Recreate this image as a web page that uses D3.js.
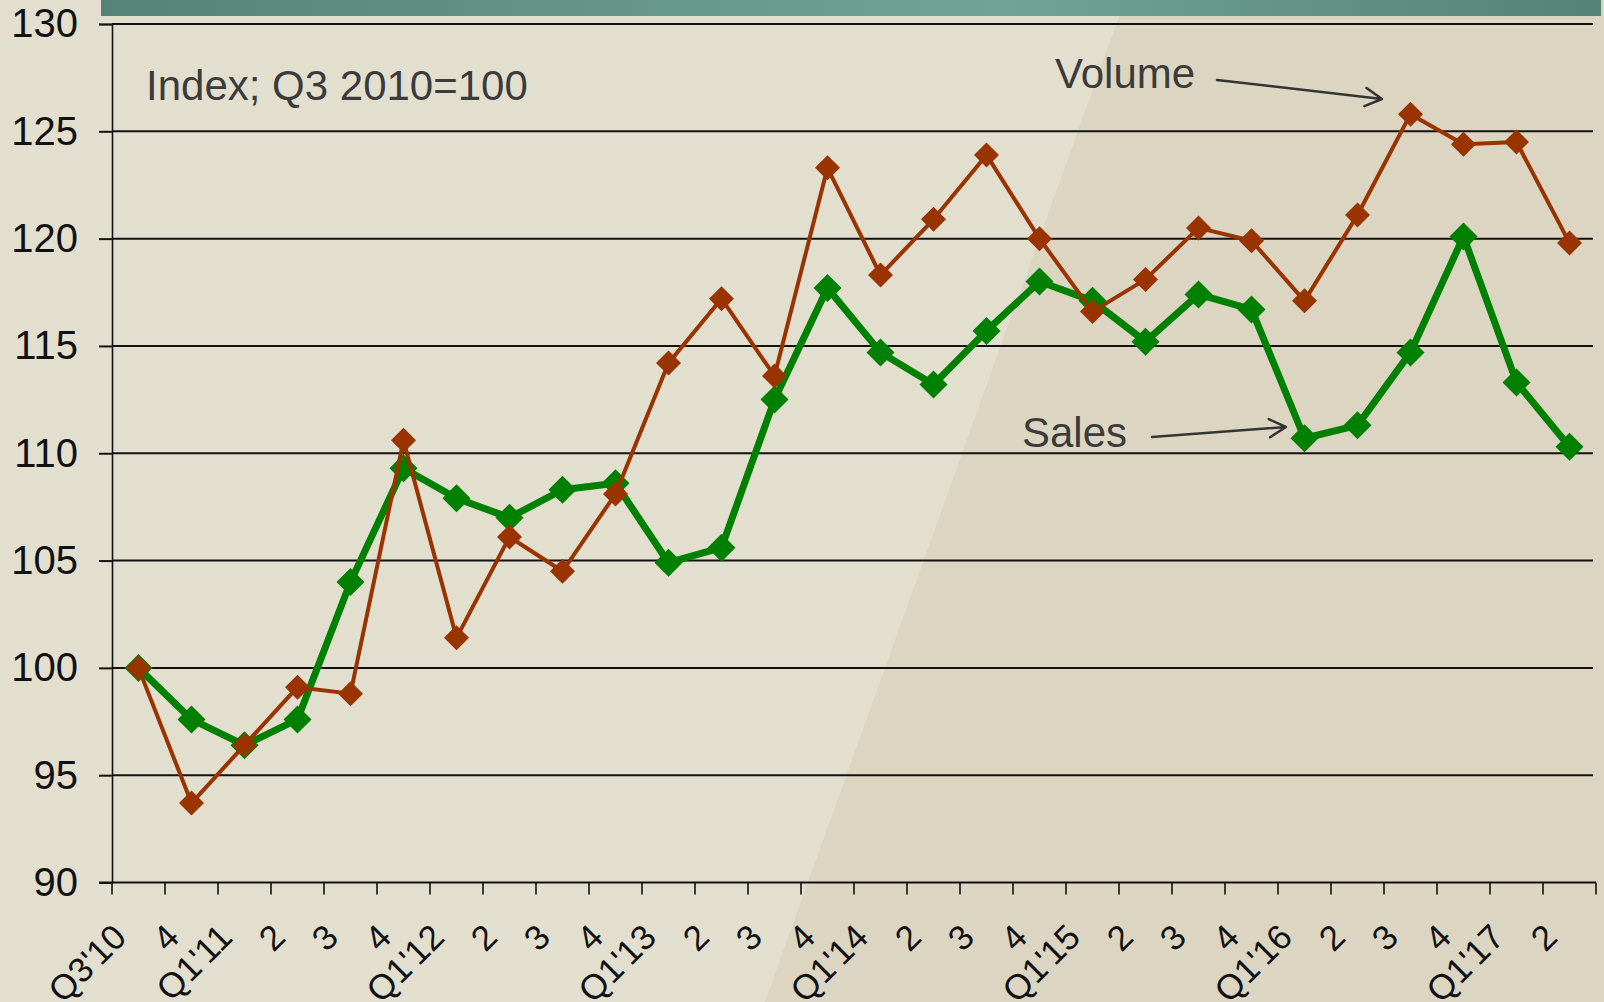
<!DOCTYPE html>
<html>
<head>
<meta charset="utf-8">
<script src="https://cdn.jsdelivr.net/npm/d3@7"></script>
<style>
  html, body { margin: 0; padding: 0; background: #e2dfcf; }
  svg { display: block; }
</style>
</head>
<body>
<script>
// quarters, Q3 2010 .. Q2 2017
var quarters = ["Q3'10", "4", "Q1'11", "2", "3", "4", "Q1'12", "2", "3", "4", "Q1'13", "2", "3", "4",
                "Q1'14", "2", "3", "4", "Q1'15", "2", "3", "4", "Q1'16", "2", "3", "4", "Q1'17", "2"];
var sales  = [100.0, 97.6, 96.4, 97.6, 104.0, 109.3, 107.9, 107.0, 108.3, 108.6, 104.9, 105.6, 112.5, 117.7,
              114.7, 113.2, 115.7, 118.0, 117.1, 115.2, 117.4, 116.7, 110.7, 111.3, 114.7, 120.1, 113.3, 110.3];
var volume = [100.0, 93.7, 96.4, 99.1, 98.8, 110.6, 101.4, 106.1, 104.5, 108.1, 114.2, 117.2, 113.6, 123.3,
              118.3, 120.9, 123.9, 120.0, 116.6, 118.1, 120.5, 119.9, 117.1, 121.1, 125.8, 124.4, 124.5, 119.8];
var yTicks = [90, 95, 100, 105, 110, 115, 120, 125, 130];

var W = 1604, H = 1002;
var svg = d3.select("body").append("svg")
    .attr("width", W)
    .attr("height", H);

var defs = svg.append("defs");
var grad = defs.append("linearGradient").attr("id", "bar").attr("x1", "0").attr("x2", "1");
grad.append("stop").attr("offset", "0").attr("stop-color", "#558377");
grad.append("stop").attr("offset", "0.6").attr("stop-color", "#71a497");
grad.append("stop").attr("offset", "1").attr("stop-color", "#548276");

// background with the darker diagonal panel on the right
svg.append("rect").attr("width", W).attr("height", H).attr("fill", "#e2dfcf");
svg.append("path")
    .attr("d", "M1125,0 L" + W + ",0 L" + W + "," + H + " L765," + H + " Z")
    .attr("fill", "#dbd5c2");

// title bar (cut off at the top)
svg.append("rect")
    .attr("x", 101).attr("y", 0)
    .attr("width", 1500).attr("height", 16)
    .attr("fill", "url(#bar)");

var x = d3.scaleBand().domain(d3.range(quarters.length)).range([112, 1596]).padding(0);
var y = d3.scaleLinear().domain([90, 130]).range([882.5, 24]);
var cx = function (i) { return x(i) + x.bandwidth() / 2; };

var font = "'Liberation Sans', Arial, sans-serif";

// gridlines
svg.append("g").selectAll("line")
    .data(yTicks.slice(1))
    .enter().append("line")
    .attr("x1", 112).attr("x2", 1593)
    .attr("y1", function (d) { return y(d); })
    .attr("y2", function (d) { return y(d); })
    .attr("stroke", "#111")
    .attr("stroke-width", 2);

// y axis
var yAxis = svg.append("g")
    .attr("transform", "translate(112,0)")
    .call(d3.axisLeft(y).tickValues(yTicks).tickSize(13).tickPadding(21).tickFormat(d3.format("d")));
yAxis.select(".domain").attr("stroke", "#111").attr("stroke-width", 1.6);
yAxis.selectAll(".tick line").attr("stroke", "#111").attr("stroke-width", 2);
yAxis.selectAll("text")
    .attr("fill", "#111")
    .style("font-family", font)
    .style("font-size", "40px");

// x axis
var xAxis = svg.append("g")
    .attr("transform", "translate(0," + y(90) + ")");
xAxis.append("line")
    .attr("x1", 99).attr("x2", 1596)
    .attr("stroke", "#111").attr("stroke-width", 2);
xAxis.selectAll(".xt")
    .data(d3.range(quarters.length + 1))
    .enter().append("line")
    .attr("class", "xt")
    .attr("x1", function (i) { return i < quarters.length ? x(i) : x.range()[1]; })
    .attr("x2", function (i) { return i < quarters.length ? x(i) : x.range()[1]; })
    .attr("y1", 0).attr("y2", 12)
    .attr("stroke", "#111").attr("stroke-width", 1.6);
xAxis.selectAll(".xl")
    .data(quarters)
    .enter().append("text")
    .attr("class", "xl")
    .attr("transform", function (d, i) { return "translate(" + (cx(i) - 19) + ",48) rotate(-45)"; })
    .attr("text-anchor", "end")
    .attr("dominant-baseline", "central")
    .attr("fill", "#111")
    .style("font-family", font)
    .style("font-size", "35px")
    .text(function (d) { return d; });

var diamond = function (r) { return "M0," + (-r) + "L" + r + ",0L0," + r + "L" + (-r) + ",0Z"; };

function drawSeries(values, color, lineW, r) {
    var line = d3.line()
        .x(function (d, i) { return cx(i); })
        .y(function (d) { return y(d); });
    svg.append("path")
        .datum(values)
        .attr("d", line)
        .attr("fill", "none")
        .attr("stroke", color)
        .attr("stroke-width", lineW)
        .attr("stroke-linejoin", "round");
    svg.append("g").selectAll("path")
        .data(values)
        .enter().append("path")
        .attr("transform", function (d, i) { return "translate(" + cx(i) + "," + y(d) + ")"; })
        .attr("d", diamond(r))
        .attr("fill", color);
}

drawSeries(sales, "#008000", 7, 14);
drawSeries(volume, "#993300", 4, 12.5);

// annotations
function label(t, lx, ly) {
    svg.append("text")
        .attr("x", lx).attr("y", ly)
        .attr("fill", "#3b3b3b")
        .style("font-family", font)
        .style("font-size", "42px")
        .text(t);
}
function arrow(x1, y1, x2, y2) {
    var a = Math.atan2(y2 - y1, x2 - x1), L = 19, s = 0.5;
    var p1 = [x2 - L * Math.cos(a - s), y2 - L * Math.sin(a - s)];
    var p2 = [x2 - L * Math.cos(a + s), y2 - L * Math.sin(a + s)];
    svg.append("path")
        .attr("d", "M" + x1 + "," + y1 + "L" + x2 + "," + y2 +
                   "M" + p1[0] + "," + p1[1] + "L" + x2 + "," + y2 + "L" + p2[0] + "," + p2[1])
        .attr("fill", "none")
        .attr("stroke", "#333")
        .attr("stroke-width", 2.5)
        .attr("stroke-linecap", "round")
        .attr("stroke-linejoin", "round");
}

label("Index; Q3 2010=100", 146, 100);
label("Volume", 1055, 88);
arrow(1217, 80, 1382, 99);
label("Sales", 1022, 447);
arrow(1152, 437, 1286, 427);
</script>
</body>
</html>
